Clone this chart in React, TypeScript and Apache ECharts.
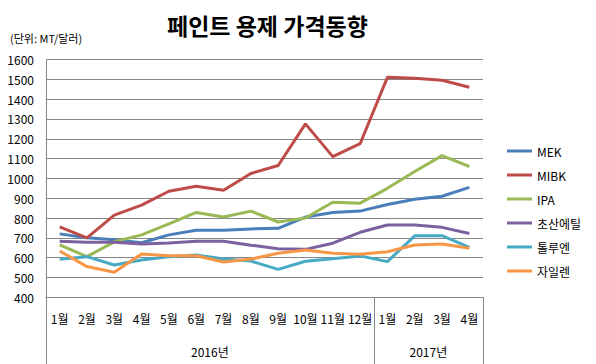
import React, { useEffect, useRef } from "react";
import * as echarts from "echarts";

const months = ["1월", "2월", "3월", "4월", "5월", "6월", "7월", "8월", "9월", "10월", "11월", "12월", "1월", "2월", "3월", "4월"];
const years = ["2016년", "2017년"];
const yearCenters = [6, 14];
const yearDividers = [0, 12, 16];

const seriesNames = ["MEK", "MIBK", "IPA", "초산에틸", "톨루엔", "자일렌"];
const mek = [720, 700, 690, 675, 715, 738, 738, 745, 748, 805, 828, 835, 868, 895, 910, 955];
const mibk = [755, 700, 815, 865, 935, 960, 940, 1025, 1065, 1275, 1110, 1175, 1510, 1505, 1495, 1460];
const ipa = [665, 605, 680, 715, 770, 828, 805, 835, 780, 800, 880, 875, 950, 1035, 1115, 1060];
const ethylAcetate = [683, 678, 678, 669, 674, 683, 683, 663, 645, 642, 673, 728, 765, 765, 753, 722];
const toluene = [592, 605, 563, 588, 605, 614, 593, 583, 541, 582, 595, 609, 580, 710, 711, 652];
const xylene = [634, 555, 526, 619, 610, 610, 578, 593, 622, 639, 622, 617, 630, 664, 669, 647];
const seriesData = [mek, mibk, ipa, ethylAcetate, toluene, xylene];
const colors = ["#4A7EBB", "#BE4B48", "#98B954", "#7D60A0", "#46AAC5", "#F79646"];

const FONT = "'Noto Sans CJK KR', 'Noto Sans', sans-serif";
const GRID_COLOR = "#868686";

export default function App() {
  const ref = useRef<HTMLDivElement>(null);
  useEffect(() => {
    if (!ref.current) return;
    const chart = echarts.init(ref.current, undefined, { renderer: "svg" });
    chart.setOption({
      animation: false,
      backgroundColor: "#ffffff",
      textStyle: { fontFamily: FONT },
      title: [
        {
          text: "페인트 용제 가격동향",
          left: 162,
          top: 8,
          textStyle: { fontSize: 23, fontWeight: "bold", color: "#000", fontFamily: FONT },
        },
        {
          text: "(단위: MT/달러)",
          left: 5,
          top: 27,
          textStyle: { fontSize: 11, fontWeight: "normal", color: "#000", fontFamily: FONT },
        },
      ],
      legend: {
        orient: "vertical",
        left: 502,
        top: 140,
        itemWidth: 25,
        itemHeight: 3,
        itemGap: 12,
        icon: "rect",
        data: seriesNames,
        textStyle: { fontSize: 12, color: "#000", fontFamily: FONT, lineHeight: 12 },
      },
      grid: { left: 46, right: 113, top: 59.5, bottom: 66.7, containLabel: false },
      xAxis: [
        {
          type: "category",
          data: months,
          boundaryGap: true,
          position: "bottom",
          axisLine: { show: true, lineStyle: { color: GRID_COLOR, width: 1 } },
          axisTick: { show: false },
          axisLabel: { interval: 0, fontSize: 12, color: "#000", margin: 15, fontFamily: FONT },
        },
        {
          type: "value",
          min: 0,
          max: 16,
          position: "bottom",
          axisLine: { show: false },
          splitLine: { show: false },
          axisTick: {
            show: true,
            customValues: yearDividers,
            length: 67,
            lineStyle: { color: GRID_COLOR, width: 1 },
          },
          axisLabel: {
            show: true,
            customValues: yearCenters,
            formatter: (v: number) => years[yearCenters.indexOf(v)] ?? "",
            fontSize: 12,
            color: "#000",
            margin: 48,
            fontFamily: FONT,
          },
        },
      ],
      yAxis: {
        type: "value",
        min: 400,
        max: 1600,
        interval: 100,
        axisLine: { show: true, lineStyle: { color: GRID_COLOR, width: 1 } },
        axisTick: { show: false },
        splitLine: { show: true, lineStyle: { color: GRID_COLOR, width: 1 } },
        axisLabel: {
          fontSize: 12,
          color: "#000",
          margin: 12,
          fontFamily: FONT,
          formatter: (v: number) => String(v),
        },
      },
      series: seriesNames.map((name, i) => ({
        name,
        type: "line",
        xAxisIndex: 0,
        data: seriesData[i],
        symbol: "none",
        color: colors[i],
        lineStyle: { width: 3, color: colors[i] },
      })),
    });
    return () => chart.dispose();
  }, []);
  return (
    <div
      ref={ref}
      style={{ position: "fixed", left: 0, top: 0, width: 596, height: 364, background: "#fff" }}
    />
  );
}
